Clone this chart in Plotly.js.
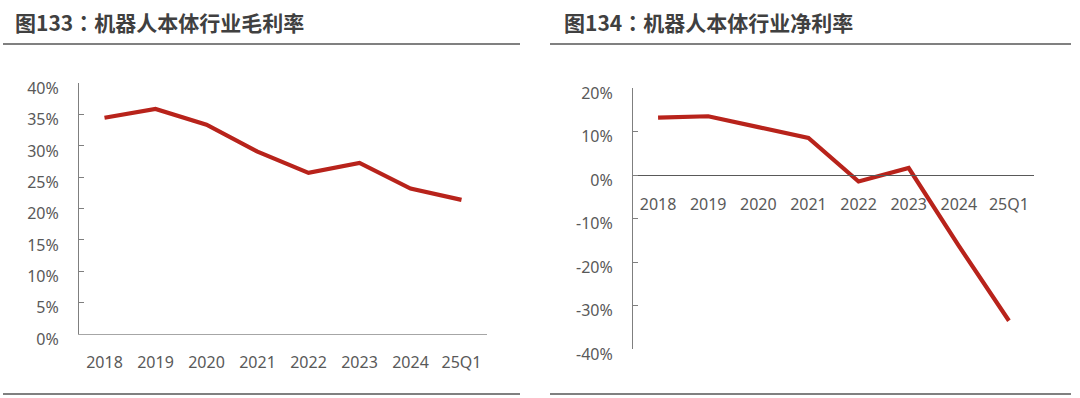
<!DOCTYPE html>
<html>
<head>
<meta charset="utf-8">
<script src="https://cdn.plot.ly/plotly-3.0.1.min.js"></script>
<style>
html,body{margin:0;padding:0;background:#fff;}
#chart{width:1080px;height:398px;}
</style>
</head>
<body>
<div id="chart"></div>
<script>
const categories = ['2018','2019','2020','2021','2022','2023','2024','25Q1'];
const grossMargin = [34.5, 35.9, 33.4, 29.1, 25.7, 27.3, 23.2, 21.4];
const netMargin = [13.2, 13.5, 11.0, 8.5, -1.5, 1.6, -16.3, -33.5];
const titles = ['图133：机器人本体行业毛利率', '图134：机器人本体行业净利率'];
const leftTickVals = [0, 5, 10, 15, 20, 25, 30, 35, 40];
const leftTickText = ['0%', '5%', '10%', '15%', '20%', '25%', '30%', '35%', '40%'];
const rightTickVals = [-40, -30, -20, -10, 0, 10, 20];
const rightTickText = ['-40%', '-30%', '-20%', '-10%', '0%', '10%', '20%'];

const W = 1080, H = 398;
const px = v => v / W;
const py = v => 1 - v / H;

const lineColor = '#b8231b';
const tickFont = {family: 'Noto Sans, Open Sans, sans-serif', size: 16, color: '#595959'};
const titleFont = {family: 'Noto Sans CJK TC, Noto Sans CJK SC, sans-serif', size: 21, color: '#404040'};

const traces = [
  {x: categories, y: grossMargin, type: 'scatter', mode: 'lines', xaxis: 'x', yaxis: 'y',
   line: {color: lineColor, width: 4.2}, hoverinfo: 'skip'},
  {x: categories, y: netMargin, type: 'scatter', mode: 'lines', xaxis: 'x2', yaxis: 'y2',
   line: {color: lineColor, width: 4.2}, hoverinfo: 'skip'}
];

const layout = {
  width: W, height: H,
  margin: {l: 0, r: 0, t: 0, b: 0},
  paper_bgcolor: '#ffffff', plot_bgcolor: 'rgba(0,0,0,0)',
  showlegend: false,
  xaxis: {
    domain: [px(79), px(487)], anchor: 'y', type: 'category', range: [-0.5, 7.5],
    showline: true, linecolor: '#a6a6a6', linewidth: 1, ticks: '', showgrid: false, zeroline: false,
    tickfont: tickFont, ticklabelstandoff: 14, fixedrange: true
  },
  yaxis: {
    domain: [py(334), py(83.3)], anchor: 'x', range: [0, 40],
    tickmode: 'array', tickvals: leftTickVals, ticktext: leftTickText,
    showline: true, linecolor: '#7f7f7f', linewidth: 1, ticks: 'inside', ticklen: 5, tickcolor: '#7f7f7f',
    showgrid: false, zeroline: false, tickfont: tickFont, ticklabelstandoff: 16, ticklabelshift: 5,
    fixedrange: true
  },
  xaxis2: {
    domain: [px(633), px(1034)], anchor: 'free', position: py(175.3), type: 'category', range: [-0.5, 7.5],
    showline: true, linecolor: '#595959', linewidth: 1, ticks: '', showgrid: false, zeroline: false,
    tickfont: tickFont, ticklabelstandoff: 14, fixedrange: true
  },
  yaxis2: {
    domain: [py(349), py(88)], anchor: 'x2', range: [-40, 20],
    tickmode: 'array', tickvals: rightTickVals, ticktext: rightTickText,
    showline: true, linecolor: '#7f7f7f', linewidth: 1, ticks: 'inside', ticklen: 5, tickcolor: '#7f7f7f',
    showgrid: false, zeroline: false, tickfont: tickFont, ticklabelstandoff: 16, ticklabelshift: 5,
    fixedrange: true
  },
  annotations: [
    {text: '<b>' + titles[0] + '</b>', xref: 'paper', yref: 'paper', x: px(13), y: py(22),
     xanchor: 'left', yanchor: 'middle', showarrow: false, font: titleFont},
    {text: '<b>' + titles[1] + '</b>', xref: 'paper', yref: 'paper', x: px(562), y: py(22),
     xanchor: 'left', yanchor: 'middle', showarrow: false, font: titleFont}
  ],
  shapes: [
    {type: 'line', xref: 'paper', yref: 'paper', x0: px(3), x1: px(520), y0: py(44), y1: py(44), line: {color: '#808080', width: 2}},
    {type: 'line', xref: 'paper', yref: 'paper', x0: px(550), x1: px(1071), y0: py(44), y1: py(44), line: {color: '#808080', width: 2}},
    {type: 'line', xref: 'paper', yref: 'paper', x0: px(3), x1: px(520), y0: py(394), y1: py(394), line: {color: '#808080', width: 2}},
    {type: 'line', xref: 'paper', yref: 'paper', x0: px(550), x1: px(1071), y0: py(394), y1: py(394), line: {color: '#808080', width: 2}}
  ]
};

Plotly.newPlot('chart', traces, layout, {staticPlot: true, displayModeBar: false});
</script>
</body>
</html>
